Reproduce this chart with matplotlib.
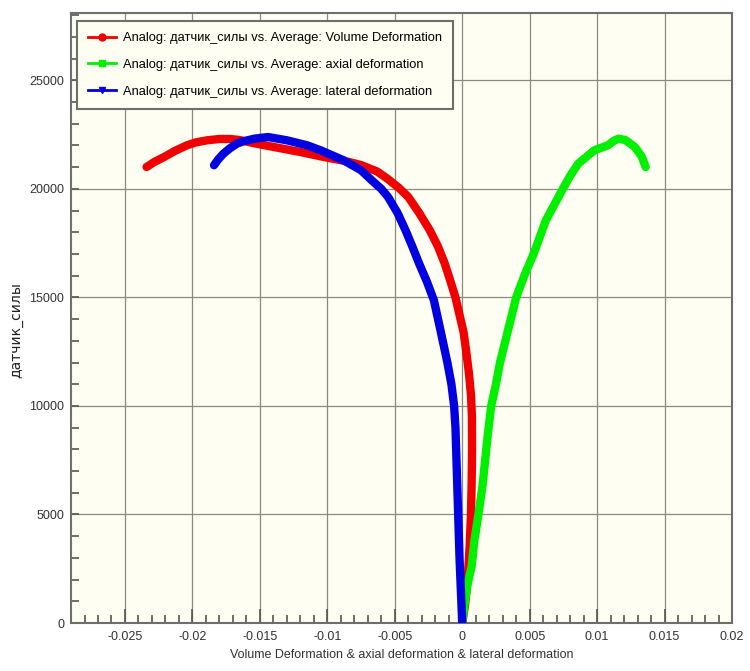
#!/usr/bin/env python3
# force sensor vs. deformation curves (volume / axial / lateral)

import matplotlib
matplotlib.use("Agg")
import matplotlib.pyplot as plt
from matplotlib.lines import Line2D
from matplotlib.ticker import MultipleLocator, FuncFormatter

plt.rcParams['font.family'] = ['Liberation Sans', 'DejaVu Sans']
plt.rcParams['axes.unicode_minus'] = False

# volume deformation
vol_x = [0, 0.0002, 0.0004, 0.00055, 0.00065, 0.0007, 0.00073, 0.00072,
         0.00065, 0.0005, 0.0003, 0.0001, -0.0002, -0.0005, -0.0009, -0.0013,
         -0.0018, -0.0024, -0.0032, -0.0040, -0.0047, -0.0055, -0.0063,
         -0.0075, -0.0088, -0.0105, -0.012, -0.01345, -0.0154, -0.0165,
         -0.0172, -0.018, -0.0189, -0.0197, -0.0204, -0.0213, -0.0221,
         -0.0228, -0.0234]
vol_y = [0, 800, 2000, 3500, 5000, 6500, 8000, 9500,
         10500, 11500, 12500, 13400, 14200, 15000, 15800, 16570,
         17350, 18090, 18900, 19630, 20050, 20450, 20800,
         21100, 21300, 21500, 21700, 21870, 22100, 22250,
         22300, 22300, 22240, 22150, 22010, 21750, 21470,
         21250, 21010]

# axial deformation
ax_x = [0, 0.0002, 0.0004, 0.0007, 0.0009, 0.0012, 0.0015, 0.0017, 0.0019,
        0.00215, 0.0025, 0.0028, 0.0032, 0.0036, 0.0040, 0.0046, 0.0053,
        0.0062, 0.0074, 0.008, 0.0086, 0.0098, 0.0108, 0.0112, 0.0116,
        0.0121, 0.0128, 0.0133, 0.0136]
ax_y = [0, 1000, 1800, 2600, 3800, 5000, 6300, 7500, 8700,
        10000, 11000, 12000, 13000, 14000, 15000, 16000, 17020,
        18550, 19935, 20600, 21165, 21780, 22010, 22200, 22315,
        22250, 21930, 21500, 21010]

# lateral deformation
lat_x = [0, -0.0001, -0.0002, -0.0003, -0.0004, -0.0005, -0.0006, -0.0008,
         -0.0011, -0.0016, -0.0021, -0.0026, -0.0032, -0.0037, -0.0042,
         -0.0048, -0.0055, -0.006, -0.0068, -0.0075, -0.0088, -0.0105,
         -0.0115, -0.013, -0.0144, -0.0154, -0.0162, -0.0167, -0.0172,
         -0.0177, -0.0181, -0.0184]
lat_y = [0, 1500, 3000, 5000, 7000, 9000, 10000, 11000,
         12000, 13450, 14870, 15700, 16570, 17350, 18090,
         18900, 19630, 20000, 20450, 20860, 21320, 21780,
         22010, 22240, 22390, 22315, 22200, 22085, 21880,
         21625, 21350, 21090]

labels = ["Analog: датчик_силы vs. Average: Volume Deformation",
          "Analog: датчик_силы vs. Average: axial deformation",
          "Analog: датчик_силы vs. Average: lateral deformation"]
colors = ['#f00000', '#00f000', '#0000e0']
markers = ['o', 's', 'v']

fig = plt.figure(figsize=(7.5, 6.71), dpi=100)
ax = fig.add_axes([0.0947, 0.0715, 0.8813, 0.909])
ax.set_facecolor('#fefef2')

for xs, ys, c in [(vol_x, vol_y, colors[0]), (ax_x, ax_y, colors[1]),
                  (lat_x, lat_y, colors[2])]:
    ax.plot(xs, ys, '-', color=c, lw=6, solid_capstyle='round',
            solid_joinstyle='round', zorder=3)

ax.set_xlim(-0.029, 0.02)
ax.set_ylim(0, 28100)
ax.xaxis.set_major_locator(MultipleLocator(0.005))
ax.xaxis.set_minor_locator(MultipleLocator(0.001))
ax.yaxis.set_major_locator(MultipleLocator(5000))
ax.yaxis.set_minor_locator(MultipleLocator(1000))
ax.xaxis.set_major_formatter(
    FuncFormatter(lambda v, p: "0" if abs(v) < 1e-9 else "%g" % round(v, 4)))

ax.grid(True, which='major', color='#8a8a80', lw=0.9, zorder=1)
ax.tick_params(axis='x', which='major', direction='in', length=10, width=1.2,
               color='#555555', labelsize=9, labelcolor='#333333', pad=6)
ax.tick_params(axis='x', which='minor', direction='in', length=6, width=1.2,
               color='#555555')
ax.tick_params(axis='y', which='both', direction='in', length=6, width=1.2,
               color='#555555', labelsize=9, labelcolor='#333333', pad=5)
for s in ax.spines.values():
    s.set_color('#6e6e6e')
    s.set_linewidth(1.5)

ax.set_xlabel("Volume Deformation & axial deformation & lateral deformation",
              fontsize=9, color='#333333', labelpad=4)
ax.set_ylabel("датчик_силы", fontsize=10, color='#222222',
              family=['DejaVu Sans'])
ax.yaxis.set_label_coords(-0.072, 0.48)

handles = [Line2D([], [], color=c, lw=2, marker=m, markersize=5,
                  markerfacecolor=c, markeredgecolor=c)
           for c, m in zip(colors, markers)]
leg = ax.legend(handles, labels, loc='upper left',
                bbox_to_anchor=(0.009, 0.987), borderaxespad=0,
                fontsize=9.3, fancybox=False, framealpha=1,
                facecolor='#fefef2', edgecolor='#6e6e6e',
                handlelength=2.2, handletextpad=0.5, labelspacing=1.15,
                borderpad=0.85)
leg.get_frame().set_linewidth(1.5)

fig.savefig("out.png", dpi=100)
